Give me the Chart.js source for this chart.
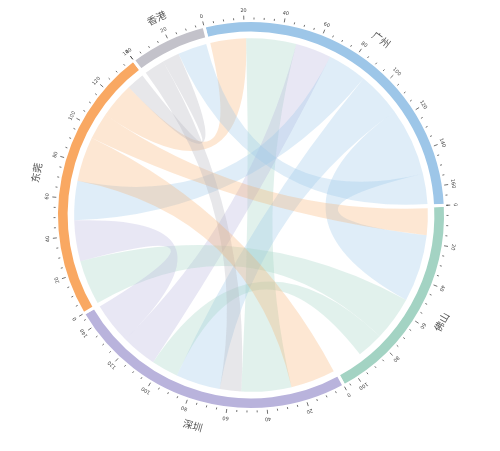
<!DOCTYPE html>
<html><head><meta charset="utf-8">
<script src="https://cdn.jsdelivr.net/npm/chart.js@4"></script>
<style>html,body{margin:0;padding:0;background:#fff}#wrap{width:500px;height:451px}</style>
</head><body><div id="wrap"><canvas id="c"></canvas></div>
<script>
const groups = ['广州','佛山','深圳','东莞','香港'];
const groupTotals = [170,108,148,140,39];
const groupColors = ['#9dc6e8','#a3d3c3','#b9b3dc','#f9a862','#c3c2ca'];
const tickClockwise = [true,true,true,true,true];
// chords: [groupA, groupB, value, colourGroup]; placed along each arc in listed order
const chordA = [0,0,0,0,0,0,1,1,1,2,0,2,4,3,4];
const chordB = [3,2,2,3,2,1,3,3,2,3,4,4,2,4,0];
const chordV = [20,28,20,22,25,38,15,25,15,23,17,12,0,10,0];
const chordC = [3,1,2,0,0,0,3,1,1,2,0,4,4,4,4];
// per-group order of chord indices (clockwise)
const groupOrder = [
  [0,1,2,3,4,5,10],
  [6,5,7,8],
  [99,1,11,4,8,2,9],
  [7,9,3,99,6,0,13],
  [11,13,10]
];
const extraDS = [25]; // 深圳–东莞 orange chord value
const chordCol = ['rgba(157,198,232,0.32)','rgba(163,211,195,0.32)','rgba(185,179,220,0.32)','rgba(249,168,98,0.28)','rgba(180,180,190,0.32)'];

const chordPlugin = {
  id:'chords',
  afterDatasetsDraw(chart){
    const ctx = chart.ctx, meta = chart.getDatasetMeta(0);
    const arcs = meta.data;
    const cx = arcs[0].x, cy = arcs[0].y, R = arcs[0].innerRadius - 5;
    const ang = (g,u)=>{const a=arcs[g];const pad=0.012;return a.startAngle+pad+(a.endAngle-a.startAngle-2*pad)*u/groupTotals[g];};
    const pos = {};
    groupOrder.forEach((ord,g)=>{
      let u=0;
      ord.forEach(ci=>{
        const v = ci===99 ? extraDS[0] : chordV[ci];
        pos[ci+'_'+g] = [ang(g,u), ang(g,u+v)];
        u+=v;
      });
    });
    const ribbons = chordA.map((a,i)=>({a, b:chordB[i], k:i, c:chordC[i]})).filter(r=>chordV[r.k]>0);
    ribbons.push({a:2,b:3,k:99,c:3});
    ctx.save();
    ribbons.forEach(r=>{
      const s = pos[r.k+'_'+r.a], t = pos[r.k+'_'+r.b];
      if(!s||!t) return;
      ctx.beginPath();
      ctx.moveTo(cx+R*Math.cos(s[0]), cy+R*Math.sin(s[0]));
      ctx.arc(cx,cy,R,s[0],s[1]);
      ctx.quadraticCurveTo(cx,cy,cx+R*Math.cos(t[0]),cy+R*Math.sin(t[0]));
      ctx.arc(cx,cy,R,t[0],t[1]);
      ctx.quadraticCurveTo(cx,cy,cx+R*Math.cos(s[0]),cy+R*Math.sin(s[0]));
      ctx.closePath();
      ctx.fillStyle = chordCol[r.c];
      ctx.fill();
    });
    const Ro = arcs[0].outerRadius;
    ctx.strokeStyle='#333'; ctx.fillStyle='#444'; ctx.lineWidth=0.7;
    arcs.forEach((a,g)=>{
      const tot=groupTotals[g];
      for(let v=0; v<=tot; v+=5){
        const u = tickClockwise[g]? v : tot-v;
        const th = a.startAngle+(a.endAngle-a.startAngle)*u/tot;
        const big = v%20===0;
        ctx.beginPath();
        ctx.moveTo(cx+(Ro+1)*Math.cos(th), cy+(Ro+1)*Math.sin(th));
        ctx.lineTo(cx+(Ro+(big?5:3))*Math.cos(th), cy+(Ro+(big?5:3))*Math.sin(th));
        ctx.stroke();
        if(big){
          ctx.save();
          ctx.translate(cx+(Ro+10)*Math.cos(th), cy+(Ro+10)*Math.sin(th));
          ctx.rotate(th+Math.PI/2);
          ctx.font='5px "DejaVu Sans"'; ctx.textAlign='center'; ctx.textBaseline='middle';
          ctx.fillText(String(v),0,0);
          ctx.restore();
        }
      }
      const mid=(a.startAngle+a.endAngle)/2;
      let rot = mid+Math.PI/2;
      const deg = ((rot*180/Math.PI)%360+360)%360;
      if(deg>100 && deg<260) rot+=Math.PI;
      ctx.save();
      ctx.translate(cx+(Ro+24)*Math.cos(mid), cy+(Ro+24)*Math.sin(mid));
      ctx.rotate(rot);
      ctx.font='10px "Noto Sans CJK SC"'; ctx.fillStyle='#555'; ctx.textAlign='center'; ctx.textBaseline='middle';
      ctx.fillText(groups[g],0,0);
      ctx.restore();
    });
    ctx.restore();
  }
};

new Chart(document.getElementById('c'),{
  type:'doughnut',
  data:{labels:groups,datasets:[{data:groupTotals,backgroundColor:groupColors,borderColor:'#fff',borderWidth:3}]},
  options:{
    responsive:true, maintainAspectRatio:false, animation:false,
    rotation:-14, circumference:360, cutout:'93.5%',
    layout:{padding:{left:55,right:53,top:19,bottom:40}},
    plugins:{legend:{display:false},tooltip:{enabled:false}}
  },
  plugins:[chordPlugin]
});
</script></body></html>
